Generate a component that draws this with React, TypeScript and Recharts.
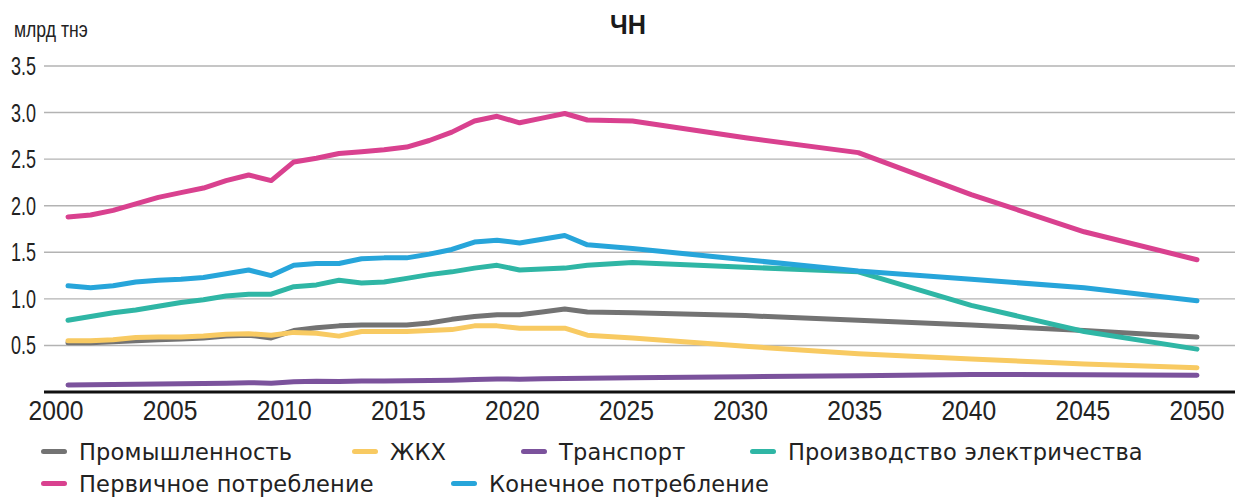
import React from "react";
import { LineChart, Line, XAxis, YAxis, CartesianGrid, Legend } from "recharts";

const years = [
  2000, 2001, 2002, 2003, 2004, 2005, 2006, 2007, 2008, 2009, 2010, 2011, 2012,
  2013, 2014, 2015, 2016, 2017, 2018, 2019, 2020, 2021, 2022, 2023, 2025, 2030,
  2035, 2040, 2045, 2050,
];

const industry = [
  0.53, 0.53, 0.54, 0.55, 0.56, 0.57, 0.58, 0.6, 0.61, 0.58, 0.66, 0.69, 0.71,
  0.72, 0.72, 0.72, 0.74, 0.78, 0.81, 0.83, 0.83, 0.86, 0.89, 0.86, 0.85, 0.82,
  0.77, 0.72, 0.66, 0.59,
];

const housing = [
  0.55, 0.55, 0.56, 0.585, 0.59, 0.59, 0.6, 0.62, 0.625, 0.61, 0.64, 0.63, 0.6,
  0.65, 0.65, 0.65, 0.66, 0.67, 0.71, 0.71, 0.685, 0.685, 0.685, 0.61, 0.58,
  0.49, 0.41, 0.355, 0.3, 0.26,
];

const transport = [
  0.075, 0.077, 0.08, 0.083, 0.085, 0.088, 0.09, 0.095, 0.1, 0.095, 0.11, 0.115,
  0.113, 0.117, 0.118, 0.12, 0.123, 0.127, 0.135, 0.14, 0.138, 0.142, 0.146,
  0.147, 0.152, 0.165, 0.175, 0.188, 0.185, 0.18,
];

const electricity = [
  0.77, 0.81, 0.85, 0.88, 0.92, 0.96, 0.99, 1.03, 1.05, 1.05, 1.13, 1.15, 1.2,
  1.17, 1.18, 1.22, 1.26, 1.29, 1.33, 1.36, 1.31, 1.32, 1.33, 1.36, 1.39, 1.34,
  1.29, 0.93, 0.65, 0.46,
];

const primary = [
  1.88, 1.9, 1.95, 2.02, 2.09, 2.14, 2.19, 2.27, 2.33, 2.27, 2.47, 2.51, 2.56,
  2.58, 2.6, 2.63, 2.7, 2.79, 2.91, 2.96, 2.89, 2.94, 2.99, 2.92, 2.91, 2.73,
  2.57, 2.12, 1.72, 1.42,
];

const finalUse = [
  1.14, 1.12, 1.14, 1.18, 1.2, 1.21, 1.23, 1.27, 1.31, 1.25, 1.36, 1.38, 1.38,
  1.43, 1.44, 1.44, 1.48, 1.53, 1.61, 1.63, 1.6, 1.64, 1.68, 1.58, 1.54, 1.42,
  1.3, 1.21, 1.12, 0.98,
];

const xTicks = [2000, 2005, 2010, 2015, 2020, 2025, 2030, 2035, 2040, 2045, 2050];
const yTicks = [0.5, 1, 1.5, 2, 2.5, 3, 3.5];

const seriesNames = [
  "Промышленность",
  "ЖКХ",
  "Транспорт",
  "Производство электричества",
  "Первичное потребление",
  "Конечное потребление",
];
const seriesKeys = ["industry", "housing", "transport", "electricity", "primary", "finalUse"];
const seriesColors = ["#737373", "#f8ca62", "#7b529c", "#2fb6a5", "#d9418f", "#27a5da"];

const data = years.map((year, i) => ({
  year,
  industry: industry[i],
  housing: housing[i],
  transport: transport[i],
  electricity: electricity[i],
  primary: primary[i],
  finalUse: finalUse[i],
}));

const FONT = '"Liberation Sans", Arial, sans-serif';
const LEGEND_FONT = '"DejaVu Sans", sans-serif';

const legendPos = [
  { left: 41, top: 19.5 },
  { left: 352, top: 19.5 },
  { left: 521, top: 19.5 },
  { left: 750, top: 19.5 },
  { left: 41, top: 51.5 },
  { left: 451, top: 51.5 },
];

const XTick = (props: any) => {
  const { x, y, payload } = props;
  const yr = payload.value as number;
  const dx = -12 + 0.24 * (yr - 2000);
  return (
    <g transform={`translate(${x + dx},${y + 28}) scale(0.88,1)`}>
      <text
        x={0}
        y={0}
        textAnchor="middle"
        fill="#222"
        style={{ fontFamily: FONT, fontSize: 28 }}
      >
        {yr}
      </text>
    </g>
  );
};

const YTick = (props: any) => {
  const { x, y, payload } = props;
  return (
    <g transform={`translate(${x},${y + 9}) scale(0.72,1)`}>
      <text
        x={0}
        y={0}
        textAnchor="end"
        fill="#222"
        style={{ fontFamily: FONT, fontSize: 25 }}
      >
        {Number(payload.value).toFixed(1)}
      </text>
    </g>
  );
};

const renderLegend = () => (
  <div style={{ position: "relative", width: 1235, height: 66 }}>
    {seriesNames.map((name, i) => (
      <div
        key={name}
        style={{
          position: "absolute",
          left: legendPos[i].left,
          top: legendPos[i].top,
          display: "flex",
          alignItems: "center",
          height: 0,
          whiteSpace: "nowrap",
        }}
      >
        <span
          style={{
            display: "inline-block",
            width: 26,
            height: 5,
            borderRadius: 3,
            background: seriesColors[i],
            marginRight: 12,
          }}
        />
        <span
          style={{
            fontFamily: LEGEND_FONT,
            fontSize: 22.5,
            letterSpacing: "0.2px",
            lineHeight: "24px",
            color: "#222",
            display: "inline-block",
          }}
        >
          {name}
        </span>
      </div>
    ))}
  </div>
);

export default function App() {
  return (
    <div
      style={{
        position: "absolute",
        left: 0,
        top: 0,
        width: 1235,
        height: 498,
        background: "#fff",
        overflow: "hidden",
      }}
    >
      <div
        style={{
          position: "absolute",
          left: 0,
          width: 1256,
          top: 9,
          textAlign: "center",
          fontFamily: FONT,
          fontWeight: 700,
          fontSize: 28,
          color: "#1a1a1a",
          lineHeight: "32px",
          transform: "scaleX(0.9)",
          transformOrigin: "628px 0",
        }}
      >
        ЧН
      </div>
      <div
        style={{
          position: "absolute",
          left: 14,
          top: 17,
          fontFamily: FONT,
          fontSize: 22,
          color: "#222",
          lineHeight: "26px",
          transform: "scaleX(0.8)",
          transformOrigin: "left center",
        }}
      >
        млрд тнэ
      </div>
      <LineChart
        width={1235}
        height={498}
        data={data}
        margin={{ top: 66, right: 0, bottom: 76, left: 0 }}
      >
        <CartesianGrid horizontal vertical={false} stroke="#b3b3b3" strokeWidth={1.4} />
        <XAxis
          dataKey="year"
          type="number"
          domain={[2000, 2050]}
          ticks={xTicks}
          padding={{ left: 24, right: 38 }}
          height={30}
          tickSize={0}
          tickMargin={0}
          tickLine={false}
          axisLine={{ stroke: "#111", strokeWidth: 3 }}
          tick={<XTick />}
          interval={0}
        />
        <YAxis
          type="number"
          domain={[0, 3.5]}
          ticks={yTicks}
          width={44}
          tickSize={0}
          tickMargin={8}
          tickLine={false}
          axisLine={false}
          tick={<YTick />}
          interval={0}
        />
        <Legend
          layout="horizontal"
          verticalAlign="middle"
          align="center"
          wrapperStyle={{ top: 432, left: 0, width: 1235, height: 66 }}
          content={renderLegend}
        />
        {seriesKeys.map((k, i) => (
          <Line
            key={k}
            type="linear"
            dataKey={k}
            name={seriesNames[i]}
            stroke={seriesColors[i]}
            strokeWidth={5}
            strokeLinecap="round"
            strokeLinejoin="round"
            dot={false}
            activeDot={false}
            isAnimationActive={false}
          />
        ))}
      </LineChart>
    </div>
  );
}
